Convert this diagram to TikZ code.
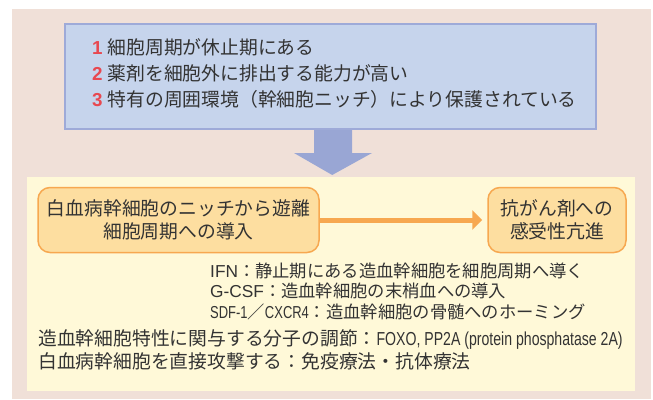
\documentclass[tikz,border=0pt]{standalone}
\usepackage{fontspec}
\usepackage{graphicx}
\setmainfont{Noto Sans CJK JP}
\newfontfamily\latf{Liberation Sans}
\usetikzlibrary{arrows.meta,calc}
\definecolor{pinkbg}{RGB}{240,224,216}
\definecolor{bluefill}{RGB}{198,212,236}
\definecolor{blueline}{RGB}{158,170,216}
\definecolor{bluearrow}{RGB}{153,166,212}
\definecolor{yellowfill}{RGB}{255,249,216}
\definecolor{orangefill}{RGB}{253,222,160}
\definecolor{orangeline}{RGB}{247,168,80}
\definecolor{rednum}{RGB}{232,72,80}
\definecolor{txt}{RGB}{51,51,51}
\tikzset{
  jp/.style={font=\fontsize{18.8pt}{23pt}\selectfont, text=txt, inner sep=0pt},
  line/.style={jp, anchor=west, text height=14.5pt, text depth=0.5pt},
  small/.style={line, font=\fontsize{17.3pt}{21pt}\selectfont, text height=13.4pt, text depth=0.5pt},
  bluebox/.style={draw=blueline, fill=bluefill, line width=2pt, inner sep=0pt, anchor=north west},
  yellowbox/.style={fill=yellowfill, inner sep=0pt, anchor=north west},
  orangebox/.style={draw=orangeline, fill=orangefill, line width=1.5pt, rounded corners=12pt, inner sep=0pt, jp, align=center},
  orangearrow/.style={draw=orangeline, line width=5pt, -{Triangle[width=19pt,length=10pt]}, shorten >=5pt},
}
\newcommand{\num}[1]{\textcolor{rednum}{\latf\bfseries #1}\hspace{5pt}}
\newcommand{\cond}[1]{{\latf\scalebox{0.75}[1]{#1}}}
\begin{document}
\begin{tikzpicture}[x=1pt,y=-1pt]
\useasboundingbox (0,0) rectangle (653,399);
\fill[white] (0,0) rectangle (653,399);
\fill[pinkbg] (12,9) rectangle (651,399);
% blue box
\node[bluebox, minimum width=531pt, minimum height=105pt] (blue) at (64,23) {};
\node[line] (n1) at (92,47) {\num{1}細胞周期が休止期にある};
\node[line] (n2) at (92,73) {\num{2}薬剤を細胞外に排出する能力が高い};
\node[line] (n3) at (92,99) {\num{3}特有の周囲環境（幹細胞ニッチ）により保護されている};
% yellow box
\node[yellowbox, minimum width=608pt, minimum height=214pt] (yellow) at (27,177) {};
% big arrow
\fill[bluearrow] ($(blue.south)+(2.5,0)+(-19,0)$) -- ($(blue.south)+(2.5,0)+(19,0)$)
  -- ($(blue.south)+(2.5,23)+(19,0)$) -- ($(blue.south)+(2.5,23)+(39,0)$)
  -- ($(yellow.north)+(1,-2)$)
  -- ($(blue.south)+(2.5,23)+(-39,0)$) -- ($(blue.south)+(2.5,23)+(-19,0)$) -- cycle;
% orange boxes
\node[orangebox, minimum width=281pt, minimum height=65pt] (b1) at (178.5,220) {白血病幹細胞のニッチから遊離\\細胞周期への導入};
\node[orangebox, minimum width=138pt, minimum height=65pt] (b2) at (557,220) {抗がん剤への\\感受性亢進};
\draw[orangearrow] (b1.east) -- (b2.west);
% notes
\node[small] (i1) at (210,271) {{\latf IFN}：静止期にある造血幹細胞を細胞周期へ導く};
\node[small] (i2) at (210,291.5) {{\latf G-CSF}：造血幹細胞の末梢血への導入};
\node[small] (i3) at (210,312) {\cond{SDF-1}／\cond{CXCR4}：造血幹細胞の骨髄へのホーミング};
\node[line] (m1) at (38,338) {造血幹細胞特性に関与する分子の調節：\cond{FOXO, PP2A (protein phosphatase 2A)}};
\node[line] (m2) at (38,361) {白血病幹細胞を直接攻撃する：免疫療法・抗体療法};
\end{tikzpicture}
\end{document}
